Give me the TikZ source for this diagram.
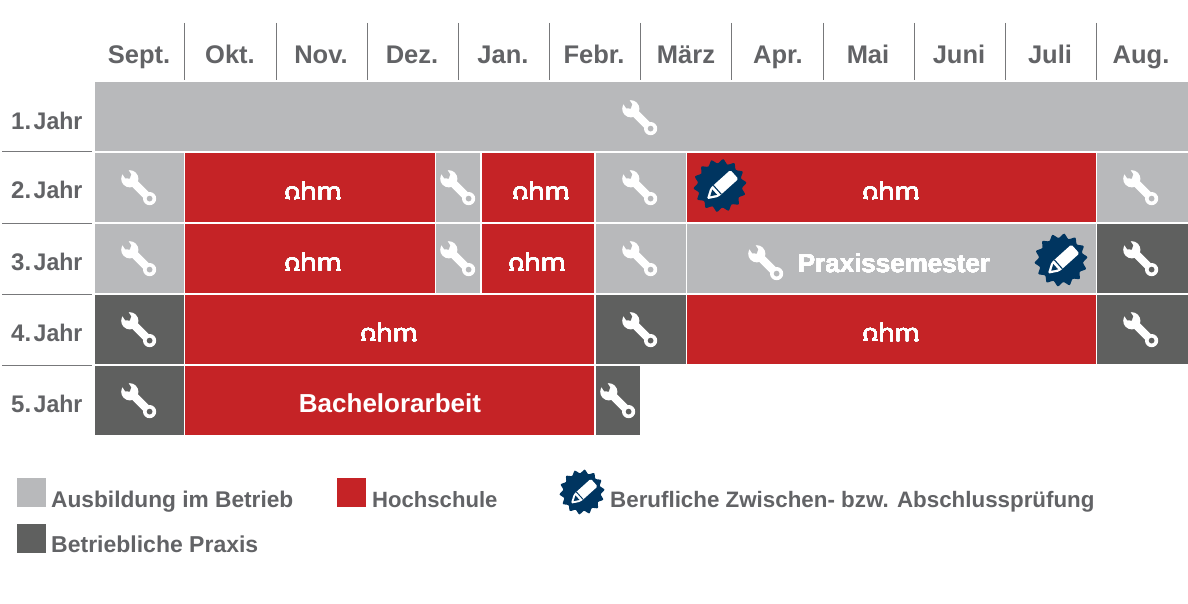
\documentclass[tikz,border=0pt]{standalone}
\usepackage{fontspec}
\setmainfont{Liberation Sans}
\newfontfamily\logofont[FakeBold=0.3]{Open Sans}
\definecolor{cgrey}{HTML}{B8B9BB}
\definecolor{cred}{HTML}{C52326}
\definecolor{cdark}{HTML}{5F605F}
\definecolor{ctext}{HTML}{626366}
\definecolor{cnavy}{HTML}{003560}
\definecolor{cline}{HTML}{77787A}
\tikzset{
  monthlabel/.style={font=\fontsize{25.5}{25}\bfseries\selectfont,text=ctext,anchor=base,inner sep=0pt},
  yearlabel/.style={font=\fontsize{24}{25}\bfseries\selectfont,text=ctext,anchor=base west,inner sep=0pt},
  legendlabel/.style={text=ctext,anchor=base west,inner sep=0pt},
  celllabel/.style={font=\fontsize{26}{25}\bfseries\selectfont,text=white,anchor=base,inner sep=0pt},
  sep/.style={draw=cline,line width=1pt}
}
\newcommand{\cellbox}[5]{\fill[#5] (#1,#2) rectangle (#3,#4);}
\newcommand{\wrench}[3]{%
  \begin{scope}[shift={(#1,#2)},rotate=-45]
    \fill[white] (-13,0) circle[radius=8.6pt];
    \fill[white] (-11,-3.9) rectangle (15,3.9);
    \fill[white] (15,0) circle[radius=6.6pt];
    \fill[#3] (15,0) circle[radius=2.9pt];
    \begin{scope}[shift={(-13,0)},rotate=-12]
      \fill[#3] (-12,-3.6) -- (-3,-3.6) -- (-0.2,0) -- (-3,3.6) -- (-12,3.6) -- cycle;
    \end{scope}
  \end{scope}}
\newcommand{\badge}[4]{%
  \begin{scope}[shift={(#1,#2)},scale=#3]
    \fill[cnavy] plot[smooth cycle,domain=0:27,samples=28] ({\x*360/28+6}:{26.5*(0.92+0.08*cos(180*\x))*1pt});
    \begin{scope}[shift={(1,1)},rotate=42]
      \fill[white,rounded corners=1.5pt] (-19,0) -- (-9,-6) -- (18,-6) -- (18,6) -- (-9,6) -- cycle;
      \fill[cnavy] (-14.5,0) -- (-8.5,-3.6) -- (-8.5,3.6) -- cycle;
      \fill[cnavy] (-5.5,-6) -- (-4.4,-6) -- (-4.4,6) -- (-5.5,6) -- cycle;
    \end{scope}
    \node[inner sep=0pt,minimum size=0pt] (#4) at (0,0) {};
  \end{scope}}
\newcommand{\ohmlogo}[3]{%
  \node[anchor=base west,inner sep=0pt,text=white,font=\fontsize{24}{24}\logofont\selectfont] (#3) at (#1-29,#2) {\scalebox{1.11}[1]{ohm}};
  \fill[cred] (#1-22.6,#2-5) rectangle (#1-19,#2+1);
  \fill[white] (#1-28.5,#2-2) rectangle (#1-22.6,#2);
  \fill[white] (#1-19,#2-2) rectangle (#1-13,#2);
  \fill[white] (#1+23,#2-2) rectangle (#1+28,#2);}
\begin{document}
\begin{tikzpicture}[x=1pt,y=-1pt]
\fill[white] (0,0) rectangle (1188,604);
\useasboundingbox (0,0) rectangle (1188,604);
% header
\foreach \i/\xx/\t in {a/139/Sept.,b/230/Okt.,c/321/Nov.,d/412/Dez.,e/503/Jan.,f/594/Febr.,g/686/März,h/778/Apr.,i/868/Mai,j/959/Juni,k/1050/Juli,l/1141/Aug.}
  \node[monthlabel] (m\i) at (\xx,64) {\t};
\foreach \xx in {184.5,276,367,458,549,640.5,731.5,823,914,1005,1096}
  \draw[sep] (\xx,23) -- (\xx,80);
\foreach \yy in {152,223,294,365}
  \draw[sep] (2,\yy) -- (92,\yy);
\foreach \i/\yy in {1/130,2/199,3/270,4/341,5/412}
  \node[yearlabel] (y\i) at (11,\yy) {\i.\hspace{-1.5pt}\,\scalebox{.96}[1]{Jahr}};
% row 1
\cellbox{95}{82.5}{1187.5}{151}{cgrey}
% row 2
\cellbox{95}{153}{184}{222}{cgrey}
\cellbox{185}{153}{435}{222}{cred}
\cellbox{436}{153}{480}{222}{cgrey}
\cellbox{482}{153}{594}{222}{cred}
\cellbox{596}{153}{685.5}{222}{cgrey}
\cellbox{687}{153}{1096}{222}{cred}
\cellbox{1097}{153}{1187.5}{222}{cgrey}
% row 3
\cellbox{95}{224}{184}{293}{cgrey}
\cellbox{185}{224}{435}{293}{cred}
\cellbox{436}{224}{480}{293}{cgrey}
\cellbox{482}{224}{594}{293}{cred}
\cellbox{596}{224}{685.5}{293}{cgrey}
\cellbox{687}{224}{1096}{293}{cgrey}
\cellbox{1097}{224}{1187.5}{293}{cdark}
% row 4
\cellbox{95}{295}{184}{364}{cdark}
\cellbox{185}{295}{594}{364}{cred}
\cellbox{596}{295}{685.5}{364}{cdark}
\cellbox{687}{295}{1096}{364}{cred}
\cellbox{1097}{295}{1187.5}{364}{cdark}
% row 5
\cellbox{95}{366}{184}{434.5}{cdark}
\cellbox{185}{366}{594}{434.5}{cred}
\cellbox{596}{366}{639.5}{434.5}{cdark}
% wrenches
\foreach \xx/\yy/\c in {640/118/cgrey,139/188/cgrey,458/188/cgrey,640/188/cgrey,1141/188/cgrey,139/259/cgrey,458/259/cgrey,640/259/cgrey,766/263/cgrey,1141/259/cdark,139/330/cdark,640/330/cdark,1141/330/cdark,139/401/cdark,618/401/cdark}
  \wrench{\xx}{\yy}{\c}
% logos
\ohmlogo{313}{199.5}{o1}
\ohmlogo{541}{199.5}{o2}
\ohmlogo{891}{199.5}{o3}
\ohmlogo{313}{270.5}{o4}
\ohmlogo{537}{270.5}{o5}
\ohmlogo{389}{341}{o6}
\ohmlogo{891}{341}{o7}
% labels
\node[celllabel] (praxis) at (894,272) {Praxissemester};
\node[celllabel] (bachelor) at (390,412) {Bachelorarbeit};
% badges
\badge{720}{185.5}{1}{b1}
\badge{1061}{260}{1}{b2}
\badge{582}{492}{0.85}{b3}
% legend
\fill[cgrey] (17,478) rectangle (46,507);
\fill[cred] (337,478) rectangle (366,507);
\fill[cdark] (17,524) rectangle (46,553);
\node[legendlabel,font=\fontsize{22.7}{23}\bfseries\selectfont] (l1) at (51,507) {Ausbildung im Betrieb};
\node[legendlabel,font=\fontsize{22.1}{23}\bfseries\selectfont] (l2) at (372,507) {Hochschule};
\node[legendlabel,font=\fontsize{22.35}{23}\bfseries\selectfont] (l3) at (610,507) {Berufliche Zwischen- bzw. Abschlussprüfung};
\node[legendlabel,font=\fontsize{23}{23}\bfseries\selectfont] (l4) at (51,552) {Betriebliche Praxis};
\end{tikzpicture}
\end{document}
